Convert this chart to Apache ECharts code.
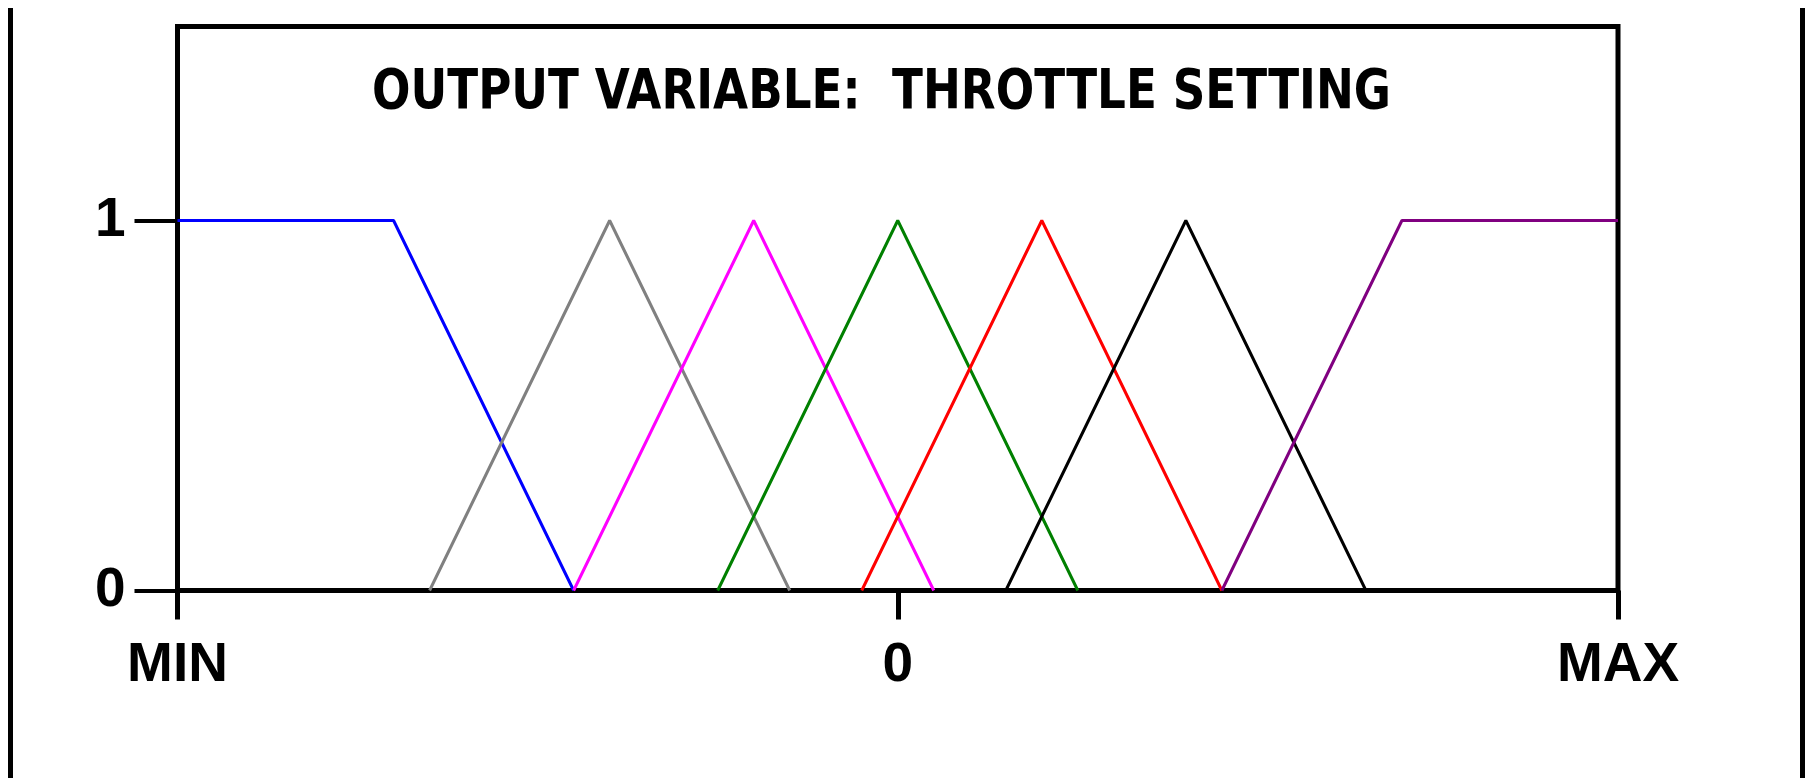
<!DOCTYPE html>
<html>
<head>
<meta charset="utf-8">
<script src="https://cdn.jsdelivr.net/npm/echarts@6/dist/echarts.min.js"></script>
<style>
html,body{margin:0;padding:0;background:#fff;}
#chart{width:1806px;height:778px;}
</style>
</head>
<body>
<div id="chart"></div>
<script>
// Membership functions of the output variable (x from MIN=-5 to MAX=5)
const titleText = 'OUTPUT VARIABLE:  THROTTLE SETTING';
const xTickValues = [-5, 0, 5];
const xTickLabels = ['MIN', '0', 'MAX'];
const yTickValues = [0, 1];
const setNames = ['NL', 'NM', 'NS', 'ZE', 'PS', 'PM', 'PL'];
const setColors = ['#0000ff', '#808080', '#ff00ff', '#008000', '#ff0000', '#000000', '#800080'];
const nlX = [-5, -3.5, -2.25];   const nlY = [1, 1, 0];
const nmX = [-3.25, -2, -0.75];  const nmY = [0, 1, 0];
const nsX = [-2.25, -1, 0.25];   const nsY = [0, 1, 0];
const zeX = [-1.25, 0, 1.25];    const zeY = [0, 1, 0];
const psX = [-0.25, 1, 2.25];    const psY = [0, 1, 0];
const pmX = [0.75, 2, 3.25];     const pmY = [0, 1, 0];
const plX = [2.25, 3.5, 5];      const plY = [0, 1, 1];

const setXs = [nlX, nmX, nsX, zeX, psX, pmX, plX];
const setYs = [nlY, nmY, nsY, zeY, psY, pmY, plY];

// title font: bold condensed, squeezed horizontally to the reference width
const titleFont = 'bold 56px "DejaVu Sans Condensed", "Liberation Sans Narrow", sans-serif';
const titleLeft = 372, titleWidth = 1019;
const ctx = document.createElement('canvas').getContext('2d');
ctx.font = titleFont;
const measured = ctx.measureText(titleText).width || titleWidth;
const titleScale = titleWidth / measured;

const chart = echarts.init(document.getElementById('chart'), null, {renderer: 'canvas'});
const series = setNames.map((n, i) => ({
  name: n,
  type: 'line',
  data: setXs[i].map((x, j) => [x, setYs[i][j]]),
  showSymbol: false,
  symbol: 'none',
  animation: false,
  clip: false,
  lineStyle: {color: setColors[i], width: 3},
  z: 3
}));

chart.setOption({
  animation: false,
  backgroundColor: '#ffffff',
  grid: {
    left: 177.5, right: 1806 - 1618, top: 26.5, bottom: 778 - 590.5,
    show: true, borderColor: '#000', borderWidth: 5, backgroundColor: 'transparent',
    containLabel: false
  },
  xAxis: {
    type: 'value', min: -5, max: 5, interval: 5,
    axisLine: {show: true, onZero: false, lineStyle: {color: '#000', width: 4}},
    splitLine: {show: false},
    axisTick: {show: true, customValues: xTickValues, length: 29, lineStyle: {color: '#000', width: 5}},
    axisLabel: {
      customValues: xTickValues,
      formatter: v => xTickLabels[xTickValues.indexOf(v)] ?? '',
      margin: 48,
      fontFamily: '"Liberation Sans", Arial, sans-serif',
      fontWeight: 'bold', fontSize: 55, color: '#000'
    }
  },
  yAxis: {
    type: 'value', min: 0, max: (590.5 - 26.5) / 370, interval: 1,
    axisLine: {show: false, onZero: false},
    splitLine: {show: false},
    axisTick: {show: true, customValues: yTickValues, length: 43, lineStyle: {color: '#000', width: 4}},
    axisLabel: {
      customValues: yTickValues,
      formatter: v => String(v),
      margin: 52,
      fontFamily: '"Liberation Sans", Arial, sans-serif',
      fontWeight: 'bold', fontSize: 55, color: '#000'
    }
  },
  graphic: [
    {type: 'rect', shape: {x: 8, y: 8, width: 5, height: 770}, style: {fill: '#000'}, silent: true},
    {type: 'rect', shape: {x: 1800, y: 8, width: 5, height: 770}, style: {fill: '#000'}, silent: true},
    {type: 'text', x: titleLeft, y: 93, scaleX: titleScale, scaleY: 1, silent: true, z: 10,
     style: {text: titleText, font: titleFont, fill: '#000', textVerticalAlign: 'middle', textAlign: 'left'}}
  ],
  series: series
});
</script>
</body>
</html>
